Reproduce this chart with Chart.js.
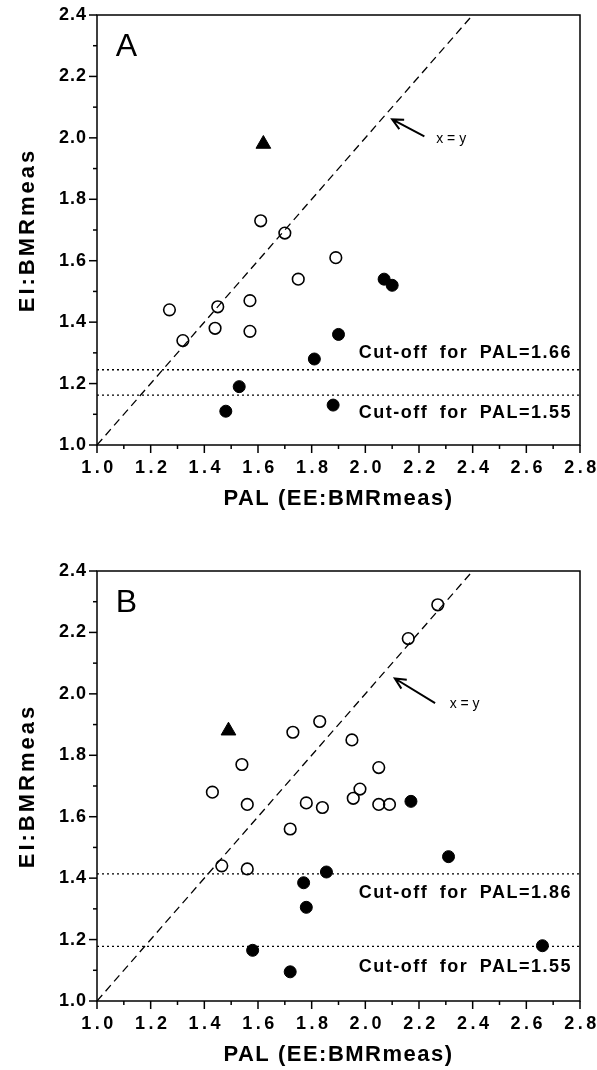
<!DOCTYPE html>
<html lang="en">
<head>
<meta charset="UTF-8" />
<title>EI:BMRmeas vs PAL</title>
<script src="https://cdn.jsdelivr.net/npm/chart.js"></script>
<style>
    body { margin: 0; background: #fff; }
    .painel { position: absolute; left: 0; }
    #graficoA { top: 0; }
    #graficoB { top: 556px; }
</style>
</head>
<body>
<canvas id="graficoA" class="painel" width="597" height="514"></canvas>
<canvas id="graficoB" class="painel" width="597" height="514"></canvas>
<script>
// tick labels
const rotulosX = ['1.0', '1.2', '1.4', '1.6', '1.8', '2.0', '2.2', '2.4', '2.6', '2.8'];
const rotulosY = ['1.0', '1.2', '1.4', '1.6', '1.8', '2.0', '2.2', '2.4'];

// panel A
const palAbertoA = [1.27, 1.32, 1.44, 1.45, 1.57, 1.57, 1.61, 1.70, 1.75, 1.89];
const eiAbertoA  = [1.44, 1.34, 1.38, 1.45, 1.47, 1.37, 1.73, 1.69, 1.54, 1.61];
const palCheioA  = [2.07, 2.10, 1.90, 1.81, 1.53, 1.48, 1.88];
const eiCheioA   = [1.54, 1.52, 1.36, 1.28, 1.19, 1.11, 1.13];
const palTriA = [1.62];
const eiTriA  = [1.98];
const corteA = [1.245, 1.1625];
const textoCorteA = ['Cut-off for PAL=1.66', 'Cut-off for PAL=1.55'];
const posTextoCorteA = [1.30, 1.105];
const setaA = [2.22, 2.005, 2.10, 2.06];   // tail x, tail y, tip x, tip y
const posXyA = [2.32, 1.995];

// panel B
const palAbertoB = [1.43, 1.54, 1.56, 1.465, 1.56, 1.73, 1.83, 1.72, 1.78, 1.84, 1.95, 1.955, 1.98, 2.05, 2.05, 2.09, 2.16, 2.27];
const eiAbertoB  = [1.68, 1.77, 1.64, 1.44, 1.43, 1.875, 1.91, 1.56, 1.645, 1.63, 1.85, 1.66, 1.69, 1.76, 1.64, 1.64, 2.18, 2.29];
const palCheioB  = [2.17, 2.31, 1.855, 1.77, 1.78, 1.58, 1.72, 2.66];
const eiCheioB   = [1.65, 1.47, 1.42, 1.385, 1.305, 1.165, 1.095, 1.18];
const palTriB = [1.49];
const eiTriB  = [1.88];
const corteB = [1.414, 1.178];
const textoCorteB = ['Cut-off for PAL=1.86', 'Cut-off for PAL=1.55'];
const posTextoCorteB = [1.352, 1.11];
const setaB = [2.26, 1.97, 2.11, 2.05];
const posXyB = [2.37, 1.965];

const linhaXY = [1.0, 2.4];

function pontos(xs, ys) {
    return xs.map(function (x, i) { return { x: x, y: ys[i] }; });
}

function achaRotulo(lista, valor) {
    return lista.find(function (r) { return Math.abs(parseFloat(r) - valor) < 1e-6; });
}

const desenho = {
    id: 'desenho',
    afterDraw(chart) {
        const ctx = chart.ctx;
        const sx = chart.scales.x;
        const sy = chart.scales.y;
        const area = chart.chartArea;
        const p = chart.options.plugins.desenho;

        ctx.save();
        ctx.strokeStyle = '#000';
        ctx.fillStyle = '#000';
        ctx.lineWidth = 1.5;
        ctx.strokeRect(area.left, area.top, area.right - area.left, area.bottom - area.top);

        // tick marks + labels, x
        ctx.font = 'bold 18px "Liberation Sans", Arial, sans-serif';
        ctx.textAlign = 'center';
        ctx.textBaseline = 'middle';
        sx.ticks.forEach(function (t) {
            const px = sx.getPixelForValue(t.value);
            const r = achaRotulo(rotulosX, t.value);
            ctx.beginPath();
            ctx.moveTo(px, area.bottom);
            ctx.lineTo(px, area.bottom + (r ? 8 : 4));
            ctx.stroke();
            if (r) {
                ctx.letterSpacing = '3.5px';
                ctx.fillText(r, px + 2, area.bottom + 23);
            }
        });
        // y
        ctx.textAlign = 'right';
        sy.ticks.forEach(function (t) {
            const py = sy.getPixelForValue(t.value);
            const r = achaRotulo(rotulosY, t.value);
            ctx.beginPath();
            ctx.moveTo(area.left, py);
            ctx.lineTo(area.left - (r ? 8 : 4), py);
            ctx.stroke();
            if (r) {
                ctx.letterSpacing = '1px';
                ctx.fillText(r, area.left - 10, py);
            }
        });

        // axis titles
        ctx.font = 'bold 22px "Liberation Sans", Arial, sans-serif';
        ctx.letterSpacing = '1.5px';
        ctx.textAlign = 'center';
        ctx.fillText('PAL (EE:BMRmeas)', (area.left + area.right) / 2, 499);
        ctx.save();
        ctx.translate(28, (area.top + area.bottom) / 2);
        ctx.rotate(-Math.PI / 2);
        ctx.letterSpacing = '3px';
        ctx.fillText('EI:BMRmeas', 0, 0);
        ctx.restore();

        // panel letter
        ctx.letterSpacing = '0px';
        ctx.font = '32px "Liberation Sans", Arial, sans-serif';
        ctx.textAlign = 'left';
        ctx.fillText(p.letra, sx.getPixelForValue(1.07), sy.getPixelForValue(2.295));

        // cut-off labels
        ctx.font = 'bold 18px "Liberation Sans", Arial, sans-serif';
        ctx.letterSpacing = '1.5px';
        ctx.wordSpacing = '5px';
        ctx.textAlign = 'right';
        p.textos.forEach(function (txt, i) {
            ctx.fillText(txt, sx.getPixelForValue(2.77), sy.getPixelForValue(p.posTextos[i]));
        });
        ctx.wordSpacing = '0px';

        // arrow to x = y
        const tx = sx.getPixelForValue(p.seta[0]), ty = sy.getPixelForValue(p.seta[1]);
        const hx = sx.getPixelForValue(p.seta[2]), hy = sy.getPixelForValue(p.seta[3]);
        const ang = Math.atan2(hy - ty, hx - tx);
        ctx.lineWidth = 2;
        ctx.beginPath();
        ctx.moveTo(tx, ty);
        ctx.lineTo(hx, hy);
        ctx.moveTo(hx - 12 * Math.cos(ang - 0.45), hy - 12 * Math.sin(ang - 0.45));
        ctx.lineTo(hx, hy);
        ctx.lineTo(hx - 12 * Math.cos(ang + 0.45), hy - 12 * Math.sin(ang + 0.45));
        ctx.stroke();

        ctx.letterSpacing = '0px';
        ctx.font = '14px "Liberation Sans Narrow", "Liberation Sans", Arial, sans-serif';
        ctx.textAlign = 'center';
        ctx.fillText('x = y', sx.getPixelForValue(p.posXy[0]), sy.getPixelForValue(p.posXy[1]));
        ctx.restore();
    }
};

function montaGrafico(id, d) {
    const ctx = document.getElementById(id);
    new Chart(ctx, {
        type: 'scatter',
        data: {
            datasets: [{
                data: pontos(d.palTri, d.eiTri),
                pointStyle: 'triangle',
                pointRadius: 8.5,
                backgroundColor: '#000',
                borderColor: '#000',
                borderWidth: 1
            }, {
                data: pontos(d.palCheio, d.eiCheio),
                pointRadius: 6,
                backgroundColor: '#000',
                borderColor: '#000',
                borderWidth: 1
            }, {
                data: pontos(d.palAberto, d.eiAberto),
                pointRadius: 5.8,
                backgroundColor: 'rgba(0,0,0,0)',
                borderColor: '#000',
                borderWidth: 1.6
            }, {
                type: 'line',
                data: pontos(linhaXY, linhaXY),
                borderColor: '#000',
                borderWidth: 1.3,
                borderDash: [8, 5],
                pointRadius: 0
            }, {
                type: 'line',
                data: pontos([1.0, 2.8], [d.corte[0], d.corte[0]]),
                borderColor: '#000',
                borderWidth: 1.4,
                borderDash: [2, 3],
                pointRadius: 0
            }, {
                type: 'line',
                data: pontos([1.0, 2.8], [d.corte[1], d.corte[1]]),
                borderColor: '#000',
                borderWidth: 1.4,
                borderDash: [2, 3],
                pointRadius: 0
            }]
        },
        options: {
            responsive: false,
            animation: false,
            devicePixelRatio: 1,
            layout: { padding: { top: 15, right: 17, left: 0, bottom: 0 } },
            plugins: {
                legend: { display: false },
                tooltip: { enabled: false },
                desenho: {
                    letra: d.letra,
                    textos: d.textos,
                    posTextos: d.posTextos,
                    seta: d.seta,
                    posXy: d.posXy
                }
            },
            scales: {
                x: {
                    type: 'linear',
                    min: 1.0,
                    max: 2.8,
                    ticks: { stepSize: 0.1, display: false },
                    grid: { display: false },
                    border: { display: false },
                    afterFit: function (s) { s.height = 69; }
                },
                y: {
                    type: 'linear',
                    min: 1.0,
                    max: 2.4,
                    ticks: { stepSize: 0.1, display: false },
                    grid: { display: false },
                    border: { display: false },
                    afterFit: function (s) { s.width = 97; }
                }
            }
        },
        plugins: [desenho]
    });
}

montaGrafico('graficoA', {
    palAberto: palAbertoA, eiAberto: eiAbertoA,
    palCheio: palCheioA, eiCheio: eiCheioA,
    palTri: palTriA, eiTri: eiTriA,
    corte: corteA, textos: textoCorteA, posTextos: posTextoCorteA,
    seta: setaA, posXy: posXyA, letra: 'A'
});

montaGrafico('graficoB', {
    palAberto: palAbertoB, eiAberto: eiAbertoB,
    palCheio: palCheioB, eiCheio: eiCheioB,
    palTri: palTriB, eiTri: eiTriB,
    corte: corteB, textos: textoCorteB, posTextos: posTextoCorteB,
    seta: setaB, posXy: posXyB, letra: 'B'
});
</script>
</body>
</html>
